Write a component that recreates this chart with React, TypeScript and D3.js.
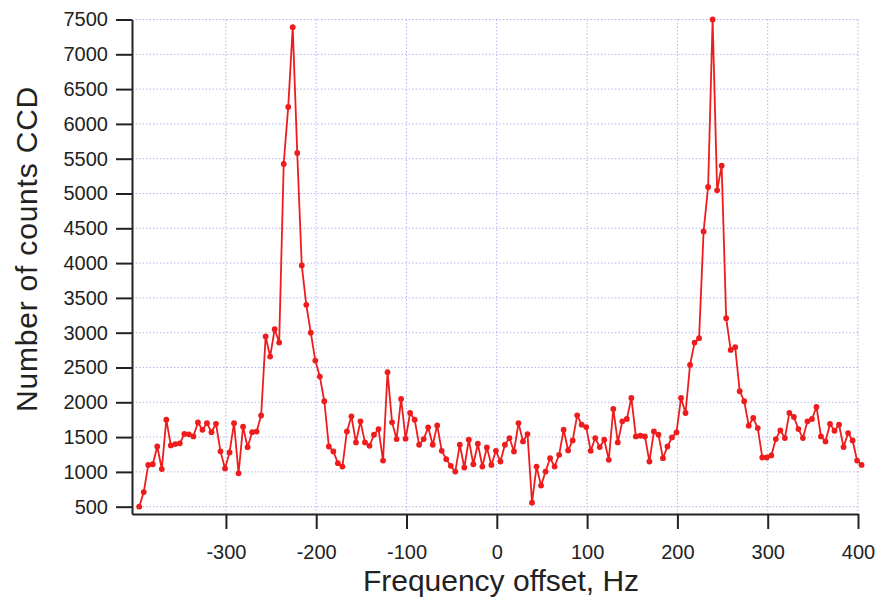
import { useEffect, useRef } from "react"
import * as d3 from "d3"

// frequency offset of each CCD reading, Hz
const freqHz = [
  -396, -391, -386, -381, -376, -371, -366, -361, -356, -351,
  -346, -341, -336, -331, -326, -321, -316, -311, -306, -301,
  -296, -291, -286, -281, -276, -271, -266, -261, -256, -251,
  -246, -241, -236, -231, -226, -221, -216, -211, -206, -201,
  -196, -191, -186, -181, -176, -171, -166, -161, -156, -151,
  -146, -141, -136, -131, -126, -121, -116, -111, -106, -101,
  -96, -91, -86, -81, -76, -71, -66, -61, -56, -51,
  -46, -41, -36, -31, -26, -21, -16, -11, -6, -1,
  4, 9, 14, 19, 24, 29, 34, 39, 44, 49,
  54, 59, 64, 69, 74, 79, 84, 89, 94, 99,
  104, 109, 114, 119, 124, 129, 134, 139, 144, 149,
  154, 159, 164, 169, 174, 179, 184, 189, 194, 199,
  204, 209, 214, 219, 224, 229, 234, 239, 244, 249,
  254, 259, 264, 269, 274, 279, 284, 289, 294, 299,
  304, 309, 314, 319, 324, 329, 334, 339, 344, 349,
  354, 359, 364, 369, 374, 379, 384, 389, 394, 399,
  404,
]

// counts
const counts = [
  500, 710, 1100, 1110, 1365, 1040, 1750, 1380, 1400, 1410,
  1545, 1540, 1510, 1710, 1605, 1700, 1570, 1690, 1295, 1050,
  1280, 1700, 980, 1650, 1355, 1570, 1580, 1810, 2945, 2657,
  3050, 2858, 5424, 6244, 7390, 5582, 3966, 3400, 3000, 2600,
  2369, 2015, 1365, 1293, 1125, 1077, 1582, 1798, 1423, 1726,
  1423, 1375, 1534, 1615, 1163, 2433, 1712, 1471, 2048, 1476,
  1846, 1750, 1390, 1471, 1640, 1390, 1668, 1303, 1183, 1087,
  1005, 1390, 1063, 1462, 1110, 1404, 1077, 1351, 1100, 1303,
  1149, 1390, 1486, 1293, 1702, 1438, 1543, 558, 1077, 803,
  1005, 1197, 1077, 1245, 1606, 1308, 1452, 1813, 1678, 1644,
  1303, 1486, 1356, 1462, 1173, 1904, 1423, 1726, 1760, 2063,
  1510, 1519, 1510, 1149, 1582, 1534, 1197, 1365, 1495, 1567,
  2063, 1846, 2537, 2858, 2921, 4455, 5093, 7500, 5045, 5400,
  3208, 2753, 2791, 2159, 2015, 1664, 1774, 1630, 1207, 1207,
  1236, 1471, 1596, 1486, 1846, 1789, 1615, 1486, 1726, 1760,
  1933, 1510, 1438, 1688, 1591, 1678, 1356, 1558, 1452, 1163,
  1100,
]

const xTicks = [-300, -200, -100, 0, 100, 200, 300, 400]
const yTicks = [500, 1000, 1500, 2000, 2500, 3000, 3500, 4000, 4500, 5000, 5500, 6000, 6500, 7000, 7500]

const W = 881
const H = 603
const FONT = "'Liberation Sans', Arial, sans-serif"
const RED = "#ee1c1c"
const GRID = "#b4b4ee"

export default function App() {
  const ref = useRef<SVGSVGElement>(null)

  useEffect(() => {
    const svg = d3.select(ref.current)
    svg.selectAll("*").remove()

    const left = 132
    const right = 858
    const top = 19.5
    const bottom = 514

    const x = d3.scaleLinear().domain([-404, 400]).range([left, right])
    const y = d3.scaleLinear().domain([395, 7500]).range([bottom, top])

    const data = freqHz.map((f, i) => ({ f, c: counts[i] }))

    // grid
    const grid = svg.append("g")
    grid
      .selectAll("line.h")
      .data(yTicks)
      .enter()
      .append("line")
      .attr("x1", left)
      .attr("x2", right)
      .attr("y1", (d) => y(d))
      .attr("y2", (d) => y(d))
      .attr("stroke", GRID)
      .attr("stroke-width", 1)
      .attr("stroke-dasharray", "1.5,2")
    grid
      .selectAll("line.v")
      .data(xTicks)
      .enter()
      .append("line")
      .attr("x1", (d) => x(d))
      .attr("x2", (d) => x(d))
      .attr("y1", top)
      .attr("y2", bottom)
      .attr("stroke", GRID)
      .attr("stroke-width", 1)
      .attr("stroke-dasharray", "1.5,2")

    // axes, plain labels (no thousands separator, ascii minus)
    const fmt = (d: d3.NumberValue) => String(d)
    const xAxis = svg
      .append("g")
      .attr("transform", `translate(0,${bottom})`)
      .call(d3.axisBottom(x).tickValues(xTicks).tickFormat(fmt).tickSize(15).tickSizeOuter(0).tickPadding(16))
    const yAxis = svg
      .append("g")
      .attr("transform", `translate(${left},0)`)
      .call(d3.axisLeft(y).tickValues(yTicks).tickFormat(fmt).tickSize(16).tickSizeOuter(0).tickPadding(8))

    ;[xAxis, yAxis].forEach((a) => {
      a.select(".domain").attr("stroke", "#222").attr("stroke-width", 2)
      a.selectAll(".tick line").attr("stroke", "#222").attr("stroke-width", 2)
      a.selectAll(".tick text")
        .attr("fill", "#222")
        .style("font-family", FONT)
        .style("font-size", "20px")
    })

    // series
    const line = d3
      .line<{ f: number; c: number }>()
      .x((d) => x(d.f))
      .y((d) => y(d.c))

    svg
      .append("path")
      .datum(data)
      .attr("d", line)
      .attr("fill", "none")
      .attr("stroke", RED)
      .attr("stroke-width", 1.8)
      .attr("stroke-linejoin", "round")

    svg
      .append("g")
      .selectAll("circle")
      .data(data)
      .enter()
      .append("circle")
      .attr("cx", (d) => x(d.f))
      .attr("cy", (d) => y(d.c))
      .attr("r", 2.9)
      .attr("fill", RED)

    // axis titles
    svg
      .append("text")
      .attr("x", (left + right) / 2 + 6)
      .attr("y", 591)
      .attr("text-anchor", "middle")
      .attr("fill", "#222")
      .style("font-family", FONT)
      .style("font-size", "30px")
      .text("Frequency offset, Hz")

    svg
      .append("text")
      .attr("transform", `translate(37,${249}) rotate(-90)`)
      .attr("text-anchor", "middle")
      .attr("fill", "#222")
      .style("font-family", FONT)
      .style("font-size", "30px")
      .style("letter-spacing", "0.8px")
      .text("Number of counts CCD")
  }, [])

  return (
    <svg
      ref={ref}
      width={W}
      height={H}
      style={{ position: "absolute", left: 0, top: 0, background: "#fff" }}
    />
  )
}
